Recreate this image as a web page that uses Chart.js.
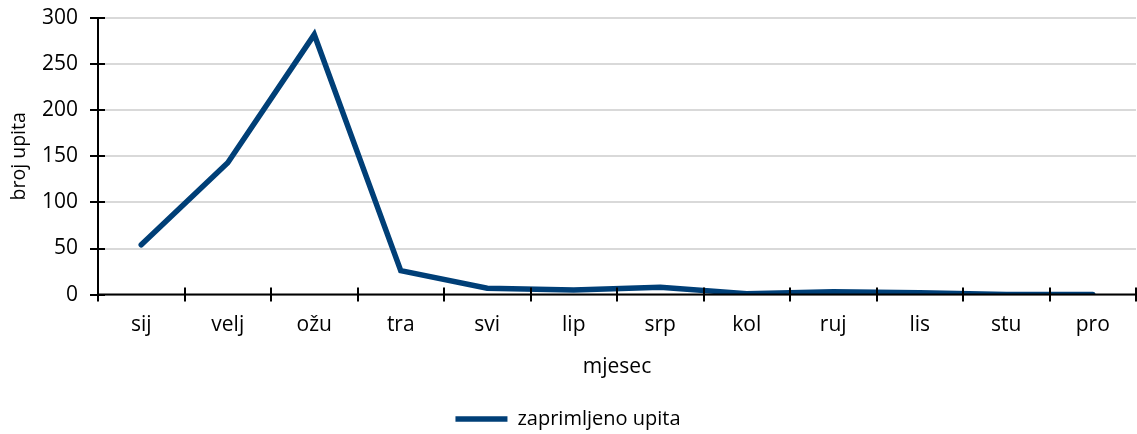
<!DOCTYPE html>
<html>
<head>
<meta charset="utf-8">
<script src="https://cdn.jsdelivr.net/npm/chart.js@4"></script>
<style>
  html, body { margin: 0; padding: 0; background: #fff; }
  #wrap { width: 1137px; height: 434px; }
</style>
</head>
<body>
<div id="wrap"><canvas id="c"></canvas></div>
<script>
const months = ['sij', 'velj', 'ožu', 'tra', 'svi', 'lip', 'srp', 'kol', 'ruj', 'lis', 'stu', 'pro'];
const received = [54, 143, 282, 26, 7, 5, 8, 1, 3, 2, 0, 0];
const yTicks = [0, 50, 100, 150, 200, 250, 300];

// black axis lines with tick marks crossing them
const axisMarks = {
    id: 'axisMarks',
    afterDraw(chart) {
        const { ctx, chartArea: a, scales: { x, y } } = chart;
        ctx.save();
        ctx.strokeStyle = '#000';
        ctx.lineWidth = 2;
        ctx.beginPath();
        ctx.moveTo(a.left, a.top);
        ctx.lineTo(a.left, a.bottom);
        ctx.moveTo(a.left, a.bottom);
        ctx.lineTo(a.right, a.bottom);
        yTicks.forEach(v => {
            const py = Math.round(y.getPixelForValue(v));
            ctx.moveTo(a.left - 8, py);
            ctx.lineTo(a.left + 7, py);
        });
        for (let i = 0; i <= months.length; i++) {
            const px = Math.round(x.getPixelForValue(i - 0.5));
            ctx.moveTo(px, a.bottom - 7);
            ctx.lineTo(px, a.bottom + 7);
        }
        ctx.stroke();
        ctx.restore();
    }
};

Chart.defaults.font.family = '"Open Sans", sans-serif';
Chart.defaults.color = '#000';

new Chart(document.getElementById('c'), {
    type: 'line',
    data: {
        labels: months,
        datasets: [{
            label: 'zaprimljeno upita',
            data: received,
            borderColor: '#003f77',
            backgroundColor: '#003f77',
            borderWidth: 5.5,
            borderCapStyle: 'round',
            pointRadius: 0,
            tension: 0,
        }]
    },
    options: {
        responsive: true,
        maintainAspectRatio: false,
        animation: false,
        layout: { padding: { top: 18, right: 1, left: 0, bottom: 0 } },
        scales: {
            x: {
                offset: true,
                grid: { display: false },
                border: { display: false },
                ticks: { padding: 10, font: { size: 21 } },
                title: { display: true, text: 'mjesec', font: { size: 21 }, padding: { top: 7, bottom: 27 } }
            },
            y: {
                min: 0,
                max: 300,
                afterFit: s => { s.width = 98; s.paddingTop = 0; s.paddingBottom = 0; },
                ticks: { stepSize: 50, padding: 20, font: { size: 21 } },
                grid: { color: '#d9d9d9', lineWidth: 2, drawTicks: false },
                border: { display: false },
                title: { display: true, text: 'broj upita', font: { size: 19.5 }, padding: { top: 8, bottom: 0 } }
            }
        },
        plugins: {
            legend: {
                position: 'bottom',
                maxHeight: 27,
                labels: {
                    usePointStyle: true,
                    pointStyle: 'line',
                    pointStyleWidth: 52,
                    font: { size: 20 },
                    boxHeight: 5,
                    padding: 2,
                }
            },
            tooltip: { enabled: false }
        }
    },
    plugins: [axisMarks]
});
</script>
</body>
</html>
